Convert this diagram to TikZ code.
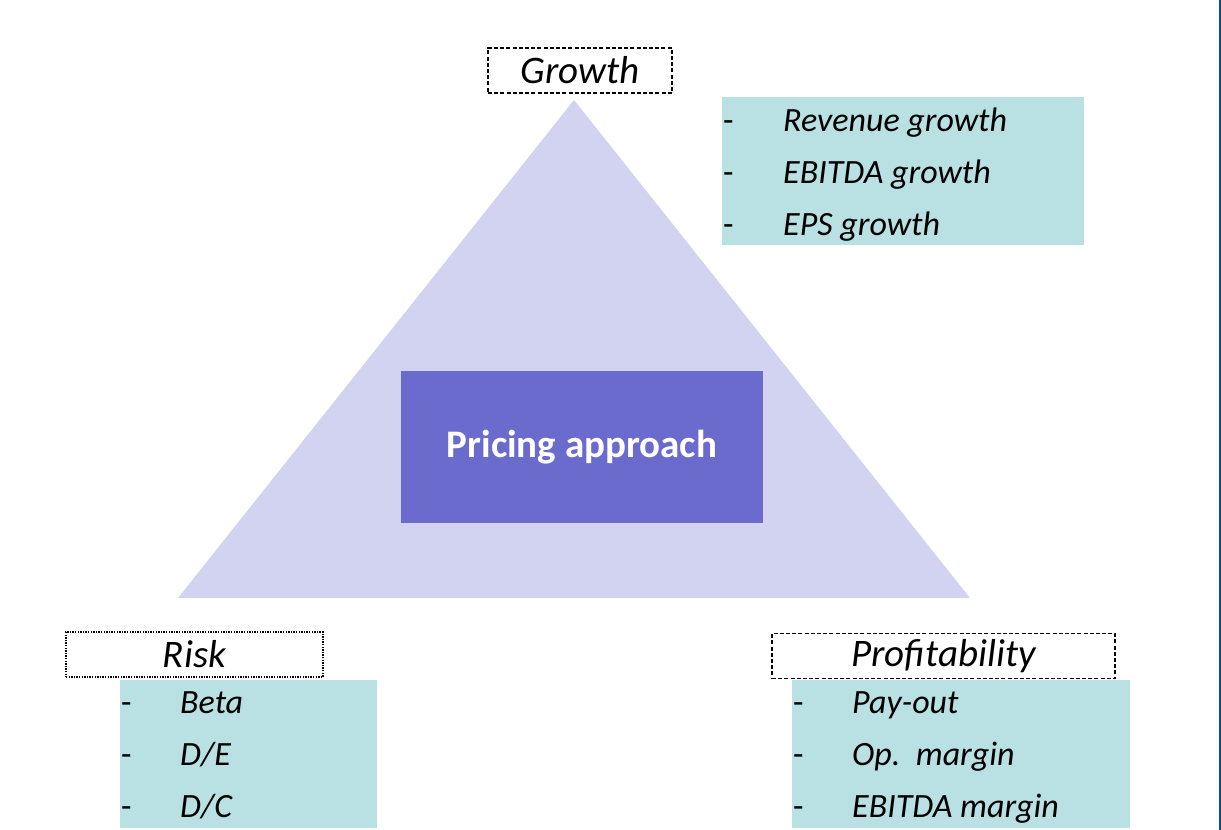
\documentclass[tikz,border=0pt]{standalone}
\usepackage{fontspec}
\setmainfont{Carlito}
\definecolor{trifill}{HTML}{D1D3F0}
\definecolor{corefill}{HTML}{6B6BCE}
\definecolor{listfill}{HTML}{B9E0E3}
\definecolor{edgeblue}{HTML}{0E4C8C}
\tikzset{
  head/.style={draw=black, line width=1.3pt, fill=white, inner sep=0pt,
    font=\fontsize{39}{44}\selectfont\itshape},
  headdash/.style={head, dash pattern=on 4pt off 2.2pt},
  headdot/.style={head, dash pattern=on 1.4pt off 1.2pt},
  listbox/.style={fill=listfill, draw=none, inner sep=0pt},
  item/.style={anchor=base west, inner sep=0pt, font=\fontsize{34}{40}\selectfont\itshape},
  bullet/.style={anchor=base west, inner sep=0pt, font=\fontsize{34}{40}\selectfont},
}
\begin{document}
\begin{tikzpicture}[x=1pt,y=-1pt]
\useasboundingbox[fill=white] (0,0) rectangle (1221,830);
% right-hand frame line
\fill[edgeblue] (1218.5,0) rectangle (1221,830);
% central triangle
\coordinate (apex) at (574,100);
\coordinate (bl) at (178,598);
\coordinate (br) at (970,598);
\fill[trifill] (apex) -- (br) -- (bl) -- cycle;
% core box
\node[fill=corefill, minimum width=362pt, minimum height=152pt, inner sep=0pt,
  text=white, font=\fontsize{39}{44}\selectfont\bfseries] (core) at (582,447) {Pricing approach};

% Growth
\node[headdash, minimum width=184pt, minimum height=45pt] (growth) at (580,70.5) {Growth};
\node[listbox, minimum width=362pt, minimum height=148pt] (glist) at (903,171) {};
\node[bullet] (gb1) at (723,131) {-};
\node[bullet] (gb2) at (723,183) {-};
\node[bullet] (gb3) at (723,235) {-};
\node[item] (g1) at (783,131) {Revenue growth};
\node[item] (g2) at (783,183) {EBITDA growth};
\node[item] (g3) at (783,235) {EPS growth};

% Risk
\node[headdot, minimum width=257pt, minimum height=45pt] (risk) at (194.5,654.5) {Risk};
\node[listbox, minimum width=257pt, minimum height=148pt] (rlist) at (248.5,754) {};
\node[bullet] (rb1) at (121,713) {-};
\node[bullet] (rb2) at (121,765) {-};
\node[bullet] (rb3) at (121,817) {-};
\node[item] (r1) at (180,713) {Beta};
\node[item] (r2) at (180,765) {D/E};
\node[item] (r3) at (180,817) {D/C};

% Profitability
\node[headdash, minimum width=343pt, minimum height=45pt] (profit) at (943.5,656) {Profitability};
\node[listbox, minimum width=338pt, minimum height=148pt] (plist) at (961,754) {};
\node[bullet] (pb1) at (793,713) {-};
\node[bullet] (pb2) at (793,765) {-};
\node[bullet] (pb3) at (793,817) {-};
\node[item] (p1) at (852,713) {Pay-out};
\node[item] (p2) at (852,765) {Op.\ \ margin};
\node[item] (p3) at (852,817) {EBITDA margin};
\end{tikzpicture}
\end{document}
